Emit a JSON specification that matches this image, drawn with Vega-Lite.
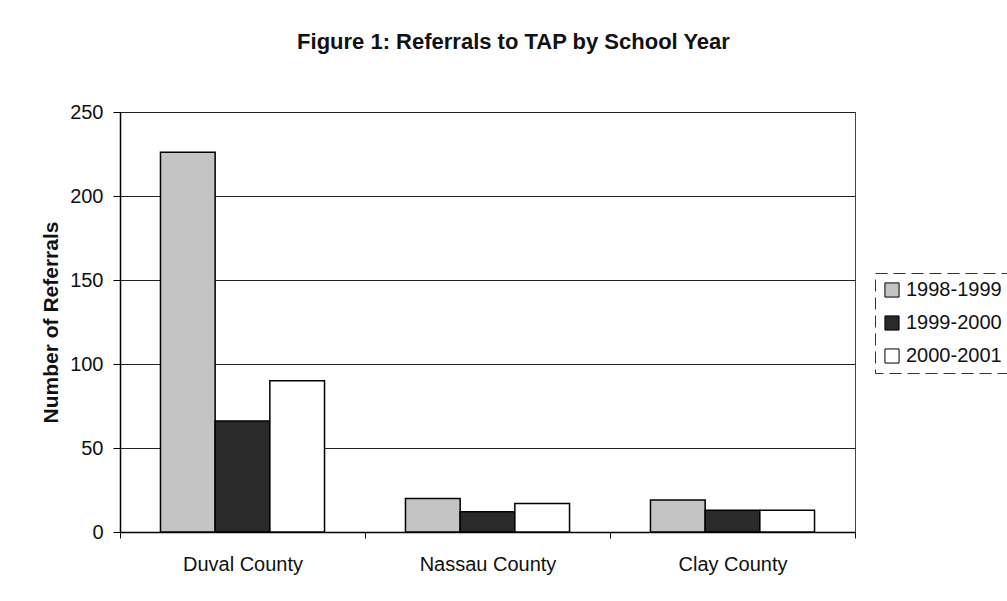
{
  "$schema": "https://vega.github.io/schema/vega-lite/v6.json",
  "width": 735,
  "height": 420,
  "autosize": {"type": "none"},
  "padding": {"left": 120, "top": 112, "right": 152, "bottom": 69},
  "background": "white",
  "title": {
    "text": "Figure 1:  Referrals to TAP by School Year",
    "font": "Liberation Sans",
    "fontSize": 22,
    "fontWeight": "bold",
    "color": "#111111",
    "anchor": "middle",
    "dx": 26,
    "offset": 48
  },
  "data": {
    "values": [
      {"county": "Duval County", "year": "1998-1999", "referrals": 226},
      {"county": "Duval County", "year": "1999-2000", "referrals": 66},
      {"county": "Duval County", "year": "2000-2001", "referrals": 90},
      {"county": "Nassau County", "year": "1998-1999", "referrals": 20},
      {"county": "Nassau County", "year": "1999-2000", "referrals": 12},
      {"county": "Nassau County", "year": "2000-2001", "referrals": 17},
      {"county": "Clay County", "year": "1998-1999", "referrals": 19},
      {"county": "Clay County", "year": "1999-2000", "referrals": 13},
      {"county": "Clay County", "year": "2000-2001", "referrals": 13}
    ]
  },
  "mark": {"type": "bar", "stroke": "black", "strokeWidth": 1.5},
  "encoding": {
    "x": {
      "field": "county",
      "type": "nominal",
      "sort": ["Duval County", "Nassau County", "Clay County"],
      "scale": {"paddingInner": 0, "paddingOuter": 0},
      "axis": {
        "title": null,
        "labelAngle": 0,
        "labelFont": "Liberation Sans",
        "labelFontSize": 20,
        "labelColor": "#111111",
        "labelPadding": 16,
        "ticks": true,
        "tickBand": "extent",
        "tickSize": 6,
        "tickColor": "black",
        "domainColor": "black",
        "domainWidth": 1.5
      }
    },
    "xOffset": {
      "field": "year",
      "type": "nominal",
      "scale": {"paddingInner": 0, "paddingOuter": 0.74}
    },
    "y": {
      "field": "referrals",
      "type": "quantitative",
      "scale": {"domain": [0, 250]},
      "axis": {
        "title": "Number of Referrals",
        "titleFont": "Liberation Sans",
        "titleFontSize": 21,
        "titleFontWeight": "bold",
        "titleColor": "#111111",
        "titlePadding": 8,
        "values": [0, 50, 100, 150, 200, 250],
        "labelFont": "Liberation Sans",
        "labelFontSize": 20,
        "labelColor": "#111111",
        "labelPadding": 10,
        "tickSize": 7,
        "tickColor": "black",
        "domainColor": "black",
        "domainWidth": 1.5,
        "grid": true,
        "gridColor": "#222222",
        "gridWidth": 1
      }
    },
    "color": {
      "field": "year",
      "type": "nominal",
      "scale": {
        "domain": ["1998-1999", "1999-2000", "2000-2001"],
        "range": ["#c4c4c4", "#2a2a2a", "#ffffff"]
      },
      "legend": {
        "title": null,
        "orient": "none",
        "legendX": 755,
        "legendY": 161,
        "symbolType": "square",
        "symbolSize": 200,
        "symbolStrokeColor": "black",
        "symbolStrokeWidth": 1,
        "labelFont": "Liberation Sans",
        "labelFontSize": 20,
        "labelColor": "#111111",
        "rowPadding": 13,
        "labelOffset": 4,
        "padding": 7,
        "strokeColor": "#333333",
        "fillColor": "white",
        "encode": {"legend": {"update": {"strokeDash": {"value": [12, 6]}}}}
      }
    }
  },
  "config": {
    "view": {"stroke": "#444444", "strokeWidth": 1}
  }
}
